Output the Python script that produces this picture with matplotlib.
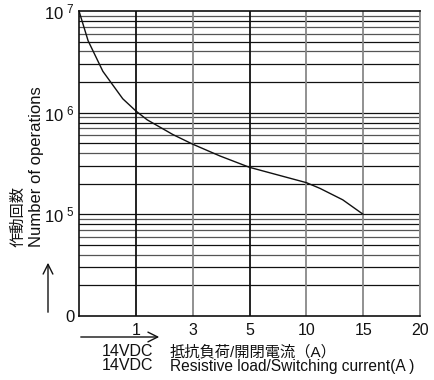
import numpy as np
import matplotlib
matplotlib.use("Agg")
import matplotlib.pyplot as plt

plt.rcParams['font.family'] = ['Liberation Sans', 'Noto Sans CJK JP', 'DejaVu Sans']
plt.rcParams['mathtext.fontset'] = 'custom'
plt.rcParams['mathtext.rm'] = 'Liberation Sans'

# x axis categories (non-uniform scale, equally spaced)
x_ticks = [0, 1, 3, 5, 10, 15, 20]
x_labels = ['', '1', '3', '5', '10', '15', '20']

# curve data: switching current (A) vs number of operations
current = [0, 0.16, 0.42, 0.77, 1.0, 1.4, 2.3, 3.0, 3.96, 5.0, 10.0, 11.2, 13.2, 15.0]
operations = [1.0e7, 5.1e6, 2.55e6, 1.37e6, 1.04e6, 8.5e5, 6.1e5, 4.9e5, 3.75e5,
              2.9e5, 2.05e5, 1.8e5, 1.39e5, 1.0e5]

y_ticks = [1e4, 1e5, 1e6, 1e7]
y_labels = ['0', r'$\mathregular{10^{\ 5}}$', r'$\mathregular{10^{\ 6}}$', r'$\mathregular{10^{\ 7}}$']

idx = np.arange(len(x_ticks), dtype=float)
def fwd(x):
    return np.interp(x, x_ticks, idx)
def inv(i):
    return np.interp(i, idx, x_ticks)

fig = plt.figure(figsize=(4.34, 3.80), dpi=100)
ax = fig.add_axes([79/434, 1-316/380, (420-79)/434, (316-11)/380])

ax.set_xscale('function', functions=(fwd, inv))
ax.set_yscale('log')
ax.set_xlim(0, 20)
ax.set_ylim(1e4, 1e7)

# horizontal grid lines
for dec in [1e4, 1e5, 1e6]:
    for k in range(1, 10):
        v = dec * k
        if v <= 1e4:
            continue
        col = '#111111' if k in (1, 2, 3, 5, 8) else '#555555'
        ax.axhline(v, color=col, lw=0.9, zorder=1)
# vertical grid lines
vcols = {1: '#111111', 3: '#888888', 5: '#111111', 10: '#888888', 15: '#888888', 20: '#888888'}
for xv in x_ticks[1:]:
    ax.axvline(xv, color=vcols[xv], lw=1.3, zorder=1)

ax.plot(current, operations, color='#111111', lw=1.0, zorder=3)

ax.set_xticks(x_ticks)
ax.set_xticklabels(x_labels)
ax.set_xticks([], minor=True)
ax.set_yticks(y_ticks)
ax.set_yticklabels(y_labels)
ax.set_yticks([], minor=True)
ax.tick_params(axis='both', length=0, colors='#111111')
ax.tick_params(axis='x', pad=5, labelsize=11.5)
ax.tick_params(axis='y', pad=3, labelsize=12)

for s in ['left', 'bottom', 'top']:
    ax.spines[s].set_color('#111111')
    ax.spines[s].set_linewidth(1.2)
ax.spines['right'].set_color('#888888')
ax.spines['right'].set_linewidth(1.3)

# y axis labels
fig.text(18/434, 1-247/380, '作動回数', rotation=90, rotation_mode='anchor',
         ha='left', va='center', fontsize=11, color='#111111')
fig.text(36/434, 1-247/380, 'Number of operations', rotation=90, rotation_mode='anchor',
         ha='left', va='center', fontsize=12, color='#111111')

# arrows
fig.add_artist(matplotlib.patches.FancyArrowPatch(
    (48/434, 1-315/380), (48/434, 1-260/380), transform=fig.transFigure,
    arrowstyle='->,head_length=7,head_width=3.5', lw=1.0, color='#111111'))
fig.add_artist(matplotlib.patches.FancyArrowPatch(
    (78/434, 1-337/380), (162/434, 1-337/380), transform=fig.transFigure,
    arrowstyle='->,head_length=7,head_width=3.5', lw=1.0, color='#111111'))

# x axis labels
fig.text(102/434, 1-352/380, '14VDC', ha='left', va='center', fontsize=11.5, color='#111111')
fig.text(170/434, 1-352/380, '抵抗負荷/開閉電流（A）', ha='left', va='center', fontsize=11, color='#111111')
fig.text(102/434, 1-366/380, '14VDC', ha='left', va='center', fontsize=11.5, color='#111111')
fig.text(170/434, 1-366/380, 'Resistive load/Switching current(A )', ha='left', va='center',
         fontsize=11.2, color='#111111')

fig.savefig('out.png', dpi=100)
